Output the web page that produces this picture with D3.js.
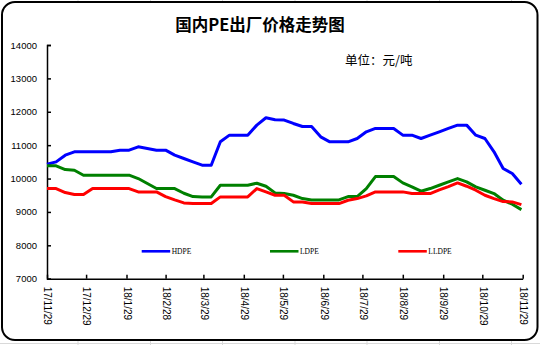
<!DOCTYPE html>
<html><head><meta charset="utf-8">
<script src="https://cdn.jsdelivr.net/npm/d3@7"></script>
<style>body{margin:0;background:#fff}svg{display:block}</style>
</head><body>
<svg id="c" width="540" height="345"></svg>
<script>
const dates = ["2017-11-29","2017-12-06","2017-12-13","2017-12-20","2017-12-27","2018-01-03","2018-01-10","2018-01-17","2018-01-24","2018-01-31","2018-02-07","2018-02-14","2018-02-21","2018-02-28","2018-03-07","2018-03-14","2018-03-21","2018-03-28","2018-04-04","2018-04-11","2018-04-18","2018-04-25","2018-05-02","2018-05-09","2018-05-16","2018-05-23","2018-05-30","2018-06-06","2018-06-13","2018-06-20","2018-06-27","2018-07-04","2018-07-11","2018-07-18","2018-07-25","2018-08-01","2018-08-08","2018-08-15","2018-08-22","2018-08-29","2018-09-05","2018-09-12","2018-09-19","2018-09-26","2018-10-03","2018-10-10","2018-10-17","2018-10-24","2018-10-31","2018-11-07","2018-11-14","2018-11-21","2018-11-28"];
const hdpe = [10430,10500,10700,10800,10800,10800,10800,10800,10850,10850,10950,10900,10850,10850,10700,10600,10500,10400,10400,11100,11300,11300,11300,11600,11820,11760,11750,11650,11560,11560,11250,11100,11100,11100,11200,11400,11500,11500,11500,11300,11300,11200,11300,11400,11500,11600,11600,11300,11200,10800,10300,10150,9830];
const ldpe = [10380,10380,10270,10250,10100,10100,10100,10100,10100,10100,10000,9850,9700,9700,9700,9560,9460,9450,9450,9800,9800,9800,9800,9860,9770,9570,9550,9500,9400,9360,9360,9360,9360,9460,9460,9700,10060,10060,10060,9870,9750,9620,9700,9800,9900,10000,9900,9750,9650,9550,9350,9230,9070];
const lldpe = [9700,9700,9580,9520,9520,9700,9700,9700,9700,9700,9600,9600,9600,9460,9360,9270,9250,9250,9250,9450,9450,9450,9450,9700,9600,9500,9500,9300,9300,9250,9250,9250,9250,9350,9400,9480,9600,9600,9600,9600,9550,9550,9550,9660,9760,9870,9770,9650,9500,9400,9310,9300,9220];
const tickDates = ["2017-11-29","2017-12-29","2018-01-29","2018-02-28","2018-03-29","2018-04-29","2018-05-29","2018-06-29","2018-07-29","2018-08-29","2018-09-29","2018-10-29","2018-11-29"];
const tickLabels = ["17/11/29","17/12/29","18/1/29","18/2/28","18/3/29","18/4/29","18/5/29","18/6/29","18/7/29","18/8/29","18/9/29","18/10/29","18/11/29"];
const yTicks = [7000,8000,9000,10000,11000,12000,13000,14000];
const seriesNames = ["HDPE","LDPE","LLDPE"];
const seriesColors = ["#0000ff","#008000","#ff0000"];
const title = "国内PE出厂价格走势图";
const unitText = "单位：元/吨";

const parse = d3.timeParse("%Y-%m-%d");
const svg = d3.select("#c");

// background spreadsheet gridlines
const gx = [78,150.5,222.5,295,367,439.5,511.5];
svg.selectAll("line.gv").data(gx).join("line")
  .attr("x1",d=>d).attr("x2",d=>d).attr("y1",0).attr("y2",345)
  .attr("stroke","#d9d9d9").attr("stroke-width",1);
svg.append("line").attr("x1",0).attr("x2",540).attr("y1",343.5).attr("y2",343.5).attr("stroke","#d9d9d9");

// frame
svg.append("rect").attr("x",2).attr("y",2).attr("width",535.5).attr("height",338)
  .attr("rx",13).attr("ry",13).attr("fill","#fff").attr("stroke","#000").attr("stroke-width",2);

const x = d3.scaleTime().domain([parse("2017-11-29"), parse("2018-11-29")]).range([47, 522.7]);
const y = d3.scaleLinear().domain([7000,14000]).range([278.7, 45]);

// title
svg.append("text").attr("x",260).attr("y",31).attr("text-anchor","middle")
  .attr("font-family","'Noto Sans CJK SC'").attr("font-weight","bold").attr("font-size",16.5)
  .text(title);
svg.append("text").attr("x",345).attr("y",65)
  .attr("font-family","'Noto Sans CJK SC'").attr("font-size",12.5)
  .text(unitText);

// axes
const yAxis = d3.axisLeft(y).tickValues(yTicks).tickFormat(d3.format("d")).tickSize(-4).tickPadding(10);
const gy = svg.append("g").attr("transform","translate(47,0)").call(yAxis);
gy.select(".domain").attr("stroke-width",1.5);
gy.selectAll(".tick line").attr("stroke-width",1.5);
gy.selectAll("text").attr("font-family","'Liberation Sans'").attr("font-size",9.5).attr("fill","#000");

const xAxis = d3.axisBottom(x).tickValues(tickDates.map(parse))
  .tickFormat((d,i)=>tickLabels[i]).tickSize(-4).tickSizeOuter(0);
const gxA = svg.append("g").attr("transform","translate(0,278.7)").call(xAxis);
gxA.select(".domain").attr("stroke-width",1.5);
gxA.selectAll(".tick line").attr("stroke-width",1.5);
gxA.selectAll("text").attr("font-family","'Liberation Sans'").attr("font-size",10).attr("fill","#000")
  .attr("transform","rotate(90)").attr("text-anchor","start").attr("x",8).attr("y",0).attr("dy","0.32em");

// lines
const allSeries = [hdpe, ldpe, lldpe];
const line = d3.line().x((d,i)=>x(parse(dates[i]))).y(d=>y(d));
svg.selectAll("path.s").data(allSeries).join("path")
  .attr("class","s").attr("d",line).attr("fill","none")
  .attr("stroke",(d,i)=>seriesColors[i]).attr("stroke-width",3).attr("stroke-linejoin","round");

// legend
const legX = [141.7, 270, 398.3];
const lg = svg.selectAll("g.lg").data(seriesNames).join("g").attr("class","lg")
  .attr("transform",(d,i)=>`translate(${legX[i]},251.3)`);
lg.append("line").attr("x1",0).attr("x2",28.5).attr("stroke",(d,i)=>seriesColors[i]).attr("stroke-width",2.6);
lg.append("text").attr("x",30).attr("dy","0.35em")
  .attr("font-family","'Liberation Serif'").attr("font-size",7.5).attr("fill","#000").text(d=>d);
</script>
</body></html>
